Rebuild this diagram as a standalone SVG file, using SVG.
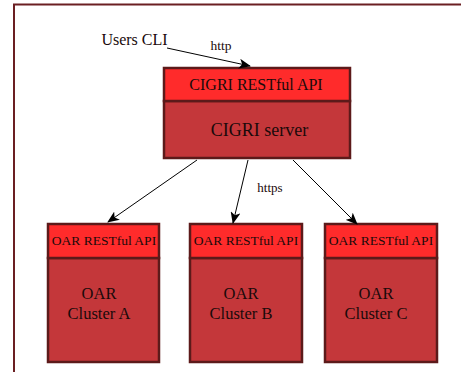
<svg xmlns="http://www.w3.org/2000/svg" width="461" height="372" viewBox="0 0 461 372">
<style>
.api{fill:#ff2b2b;stroke:#5c1a1a;stroke-width:2.5}
.body{fill:#c4373a;stroke:#5c1a1a;stroke-width:2.5}
text{font-family:"Liberation Serif","DejaVu Serif",serif;fill:#1a0a0a;text-anchor:middle}
.conn line{stroke:#000;stroke-width:1}
</style>
<defs>
<marker id="ah" viewBox="0 0 12 10" refX="11" refY="5" markerWidth="12" markerHeight="10" markerUnits="userSpaceOnUse" orient="auto">
<path d="M0,0 L12,5 L0,10 L3,5 Z" fill="#000"/>
</marker>
</defs>
<rect width="461" height="372" fill="#fff"/>
<path d="M14,372 V4.5 H461" fill="none" stroke="#6b1f22" stroke-width="2"/>
<g id="users-cli"><text x="134.5" y="45" font-size="16">Users CLI</text></g>
<g id="cigri">
<rect class="body" x="164" y="101" width="186" height="57"/>
<rect class="api" x="164" y="68" width="186" height="33"/>
<text x="256" y="90" font-size="16">CIGRI RESTful API</text>
<text x="259.5" y="136" font-size="18">CIGRI server</text>
</g>
<g id="oar-a">
<rect class="body" x="48" y="258" width="111" height="104"/>
<rect class="api" x="48" y="224" width="111" height="34"/>
<text x="104" y="245" font-size="13.5">OAR RESTful API</text>
<text x="99" y="299" font-size="16.5">OAR</text>
<text x="99" y="319" font-size="16.5">Cluster A</text>
</g>
<g id="oar-b">
<rect class="body" x="190" y="258" width="112" height="104"/>
<rect class="api" x="190" y="224" width="112" height="34"/>
<text x="246" y="245" font-size="13.5">OAR RESTful API</text>
<text x="241" y="299" font-size="16.5">OAR</text>
<text x="241" y="319" font-size="16.5">Cluster B</text>
</g>
<g id="oar-c">
<rect class="body" x="325" y="258" width="112" height="104"/>
<rect class="api" x="325" y="224" width="112" height="34"/>
<text x="381" y="245" font-size="13.5">OAR RESTful API</text>
<text x="376" y="299" font-size="16.5">OAR</text>
<text x="376" y="319" font-size="16.5">Cluster C</text>
</g>
<g class="conn" id="connectors">
<line x1="167" y1="48" x2="250" y2="66" marker-end="url(#ah)"/>
<line x1="197" y1="160" x2="108" y2="222" marker-end="url(#ah)"/>
<line x1="248" y1="160" x2="233" y2="223" marker-end="url(#ah)"/>
<line x1="293" y1="160" x2="357" y2="224" marker-end="url(#ah)"/>
<text x="221" y="50" font-size="13.5">http</text>
<text x="270" y="192" font-size="13">https</text>
</g>
</svg>
